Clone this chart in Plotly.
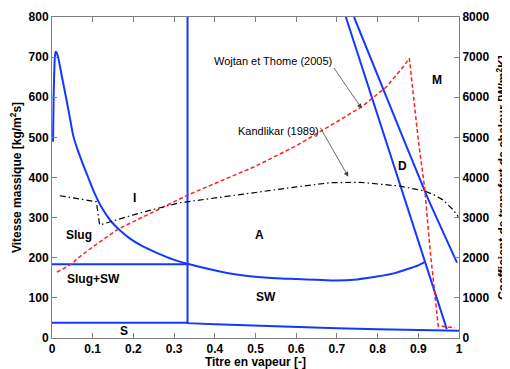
import plotly.graph_objects as go

# ---------------- data ----------------
# Blue transition curve I / A  -> SW
trans_x = [0.0025, 0.004, 0.005, 0.007, 0.009, 0.011, 0.0148, 0.025, 0.035, 0.045, 0.052, 0.062,
           0.075, 0.089, 0.105, 0.125, 0.145, 0.166, 0.19, 0.22, 0.26, 0.297, 0.333, 0.38,
           0.43, 0.486, 0.55, 0.601, 0.65, 0.699, 0.75, 0.798, 0.84, 0.88, 0.9, 0.915]
trans_g = [489, 600, 643, 700, 713, 712, 701, 648, 597, 543, 505, 472,
           436, 400, 360, 320, 291, 269, 249, 230, 211, 196, 185, 173,
           162, 154, 149, 147, 145, 143, 146, 153, 161, 174, 181, 189]

slug_sw_x = [0.0, 0.333]
slug_sw_g = [184, 184]

vert_x = [0.333, 0.333]
vert_g = [37, 800]

strat_x = [0.0, 0.333, 0.333, 0.4, 0.486, 0.6, 0.7, 0.8, 0.9, 1.0]
strat_g = [38, 38, 37, 34, 31, 27, 24, 22, 20, 18]

dryout_x = [0.722, 0.797, 0.867, 0.97]
dryout_g = [800, 565, 344, 22]

mist_x = [0.742, 0.814, 0.87, 0.925, 0.995]
mist_g = [800, 618, 480, 344, 188]

# Heat transfer coefficients (right axis)
wojtan_x = [0.012, 0.048, 0.06, 0.1, 0.162, 0.2, 0.257, 0.333, 0.4, 0.5, 0.6,
            0.658, 0.7, 0.761, 0.822, 0.863, 0.878, 0.9, 0.915, 0.929, 0.949, 0.99]
wojtan_h = [1640, 1840, 1960, 2270, 2710, 2900, 3190, 3560, 3850, 4280, 4790,
            5130, 5390, 5764, 6262, 6760, 6970, 4934, 3788, 2193, 299, 257]

kand_x = [0.019, 0.109, 0.117, 0.142, 0.2, 0.253, 0.314, 0.351, 0.42, 0.511, 0.6,
          0.684, 0.757, 0.853, 0.916, 0.94, 0.961, 0.986, 0.998]
kand_h = [3546, 3396, 2816, 2898, 3070, 3214, 3371, 3421, 3520, 3646, 3765,
          3870, 3880, 3788, 3663, 3560, 3439, 3190, 3023]

region_labels = ["I", "Slug", "Slug+SW", "S", "A", "SW", "D", "M"]
region_x = [0.203, 0.066, 0.101, 0.176, 0.511, 0.525, 0.861, 0.945]
region_g = [348, 257, 147, 17, 257, 103, 429, 643]

x_ticks = [0, 0.1, 0.2, 0.3, 0.4, 0.5, 0.6, 0.7, 0.8, 0.9, 1]
x_ticktext = ["0", "0.1", "0.2", "0.3", "0.4", "0.5", "0.6", "0.7", "0.8", "0.9", "1"]

# ---------------- figure ----------------
BLUE = "#1538ff"
FONT = "Liberation Sans, Arial, sans-serif"
AXC = "#7f7f7f"

fig = go.Figure()

for i, (xs, ys) in enumerate([(trans_x, trans_g), (slug_sw_x, slug_sw_g), (vert_x, vert_g),
                              (strat_x, strat_g), (dryout_x, dryout_g), (mist_x, mist_g)]):
    line = dict(color=BLUE, width=2)
    if i == 0:
        line.update(shape="spline", smoothing=0.7)
    fig.add_trace(go.Scatter(x=xs, y=ys, mode="lines", line=line, hoverinfo="skip"))

fig.add_trace(go.Scatter(x=wojtan_x, y=wojtan_h, yaxis="y2", mode="lines",
                         line=dict(color="#ff2020", width=1.5, dash="4px,2.5px")))
fig.add_trace(go.Scatter(x=kand_x, y=kand_h, yaxis="y2", mode="lines",
                         line=dict(color="black", width=1.2, dash="6px,3px,1.5px,3px")))

annotations = []
for t, xv, gv in zip(region_labels, region_x, region_g):
    annotations.append(dict(x=xv, y=gv, xref="x", yref="y", text=t, showarrow=False,
                            font=dict(family=FONT, size=12, color="black", weight="bold")))

annotations.append(dict(x=0.543, y=690, xref="x", yref="y", text="Wojtan et Thome (2005)",
                        showarrow=False, font=dict(family=FONT, size=11, color="black")))
annotations.append(dict(x=0.556, y=516, xref="x", yref="y", text="Kandlikar (1989)",
                        showarrow=False, font=dict(family=FONT, size=11, color="black")))
annotations.append(dict(x=0.761, y=572, xref="x", yref="y", ax=0.69, ay=677,
                        axref="x", ayref="y", text="", showarrow=True, arrowhead=2,
                        arrowsize=1.2, arrowwidth=0.8, arrowcolor="#444", standoff=0))
annotations.append(dict(x=0.728, y=402, xref="x", yref="y", ax=0.657, ay=528,
                        axref="x", ayref="y", text="", showarrow=True, arrowhead=2,
                        arrowsize=1.2, arrowwidth=0.8, arrowcolor="#444", standoff=0))

tickfont = dict(family=FONT, size=12, color="black", weight="bold")
titlefont = dict(family=FONT, size=12, color="black", weight="bold")

# The page body has an 8px default margin, so the figure is sized/offset to compensate.
fig.update_layout(
    width=502, height=361,
    margin=dict(l=44, r=51, t=9, b=31, autoexpand=False),
    paper_bgcolor="white", plot_bgcolor="white",
    showlegend=False,
    annotations=annotations,
    xaxis=dict(range=[0, 1], tickvals=x_ticks, ticktext=x_ticktext, ticks="inside",
               ticklen=5, tickcolor=AXC, showline=True, linecolor=AXC, linewidth=1,
               mirror="ticks", showgrid=False, zeroline=False, tickfont=tickfont,
               automargin=False,
               title=dict(text="Titre en vapeur [-]", font=titlefont, standoff=5)),
    yaxis=dict(range=[0, 800], dtick=100, ticks="inside", ticklen=5, tickcolor=AXC,
               showline=True, linecolor=AXC, linewidth=1, showgrid=False, zeroline=False,
               tickfont=tickfont, automargin=False,
               title=dict(text="Vitesse massique [kg/m<sup>2</sup>s]", font=titlefont, standoff=4)),
    yaxis2=dict(range=[0, 8000], dtick=1000, overlaying="y", side="right", ticks="inside",
                ticklen=5, tickcolor=AXC, showline=True, linecolor=AXC, linewidth=1,
                showgrid=False, zeroline=False, tickfont=tickfont, automargin=False,
                title=dict(text="Coefficient de transfert de chaleur [W/m<sup>2</sup>K]",
                           font=titlefont, standoff=11)),
)

fig.write_html("out.html")
